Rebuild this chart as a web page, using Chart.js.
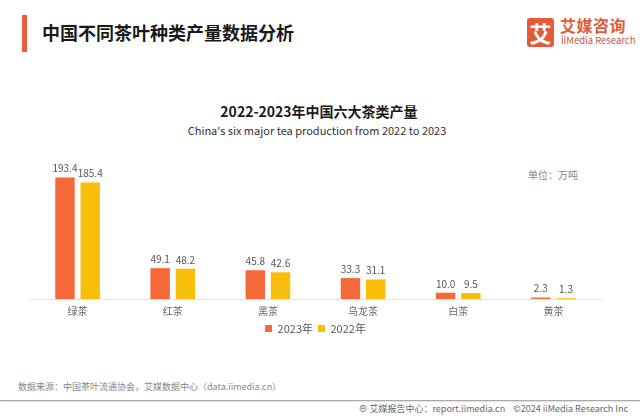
<!DOCTYPE html>
<html>
<head>
<meta charset="utf-8">
<script src="https://cdn.jsdelivr.net/npm/chart.js@4.4.1/dist/chart.umd.min.js"></script>
<style>
  html, body { margin:0; padding:0; background:#fff; }
  body { width:640px; height:416px; position:relative; overflow:hidden; font-family:"Noto Sans CJK SC","Noto Sans",sans-serif; }
  .abs { position:absolute; white-space:nowrap; }
  #accent { left:22px; top:15px; width:5px; height:37px; background:#E4603E; }
  #title { left:42px; top:20px; font-size:18px; font-weight:bold; color:#1a1a1a; line-height:24px; }
  #logoBox { left:527px; top:18px; width:27px; height:29px; background:#E35B3A; border-radius:3px; color:#fff; font-size:22px; font-weight:bold; line-height:29px; text-align:center; }
  #logoCn { left:560px; top:15px; font-size:16px; font-weight:bold; color:#E05A3A; line-height:20px; letter-spacing:0.5px; }
  #logoEn { left:561px; top:34px; font-size:9.5px; color:#C8573C; line-height:12px; }
  #ctitle { left:0; width:638px; text-align:center; top:102px; font-size:14px; font-weight:bold; color:#1a1a1a; line-height:18px; }
  #csub { left:0; width:634px; text-align:center; top:123px; font-size:11px; color:#333; line-height:15px; }
  #unit { left:528px; top:168px; font-size:10px; color:#888; line-height:13px; }
  #src { left:18px; top:381px; font-size:9px; color:#888; line-height:12px; }
  #hr { left:0; top:400px; width:640px; height:1px; background:#aaa; box-shadow:0 1px 1px #ddd; }
  #foot { right:12px; top:403px; font-size:9px; color:#666; line-height:12px; }
  #wrap { position:absolute; left:0; top:140px; width:640px; height:204px; }
</style>
</head>
<body>
<div class="abs" id="accent"></div>
<div class="abs" id="title">中国不同茶叶种类产量数据分析</div>
<div class="abs" id="logoBox">艾</div>
<div class="abs" id="logoCn">艾媒咨询</div>
<div class="abs" id="logoEn">iiMedia Research</div>
<div class="abs" id="ctitle">2022-2023年中国六大茶类产量</div>
<div class="abs" id="csub">China's six major tea production from 2022 to 2023</div>
<div class="abs" id="unit">单位：万吨</div>
<div id="wrap"><canvas id="c"></canvas></div>
<div class="abs" id="src">数据来源：中国茶叶流通协会，艾媒数据中心（data.iimedia.cn）</div>
<div class="abs" id="hr"></div>
<div class="abs" id="foot">⊕ 艾媒报告中心：report.iimedia.cn &nbsp;&nbsp; ©2024 iiMedia Research Inc</div>
<script>
const categories = ["绿茶", "红茶", "黑茶", "乌龙茶", "白茶", "黄茶"];
const seriesNames = ["2023年", "2022年"];
const values2023 = [193.4, 49.1, 45.8, 33.3, 10.0, 2.3];
const values2022 = [185.4, 48.2, 42.6, 31.1, 9.5, 1.3];

const FONT = '"Noto Sans CJK SC","Noto Sans",sans-serif';

const valueLabels = {
  id: 'valueLabels',
  afterDatasetsDraw(chart) {
    const ctx = chart.ctx;
    ctx.save();
    ctx.font = '10px ' + FONT;
    ctx.fillStyle = '#555';
    ctx.textAlign = 'center';
    ctx.textBaseline = 'bottom';
    chart.data.datasets.forEach((ds, di) => {
      const meta = chart.getDatasetMeta(di);
      meta.data.forEach((bar, i) => {
        ctx.fillText(ds.data[i].toFixed(1), bar.x, bar.y - 4);
      });
    });
    ctx.restore();
  }
};

new Chart(document.getElementById('c'), {
  type: 'bar',
  data: {
    labels: categories,
    datasets: [
      { label: seriesNames[0], data: values2023, backgroundColor: '#F5683A' },
      { label: seriesNames[1], data: values2022, backgroundColor: '#F9BE0C' }
    ]
  },
  options: {
    responsive: true,
    maintainAspectRatio: false,
    animation: false,
    layout: { padding: { left: 30, right: 39, top: 2, bottom: 0 } },
    categoryPercentage: 0.53,
    barPercentage: 0.77,
    scales: {
      x: {
        grid: { display: false, drawTicks: false },
        border: { display: true, color: '#e3e3e3', width: 1 },
        ticks: { font: { family: FONT, size: 10 }, color: '#666', padding: 6 },
        afterFit: (scale) => { scale.height = 19; }
      },
      y: {
        display: false,
        min: 0,
        max: 250
      }
    },
    plugins: {
      legend: {
        position: 'bottom',
        labels: { boxWidth: 7, boxHeight: 7, padding: 5, font: { family: FONT, size: 11 }, color: '#555' }
      },
      tooltip: { enabled: false }
    }
  },
  plugins: [valueLabels]
});
</script>
</body>
</html>
